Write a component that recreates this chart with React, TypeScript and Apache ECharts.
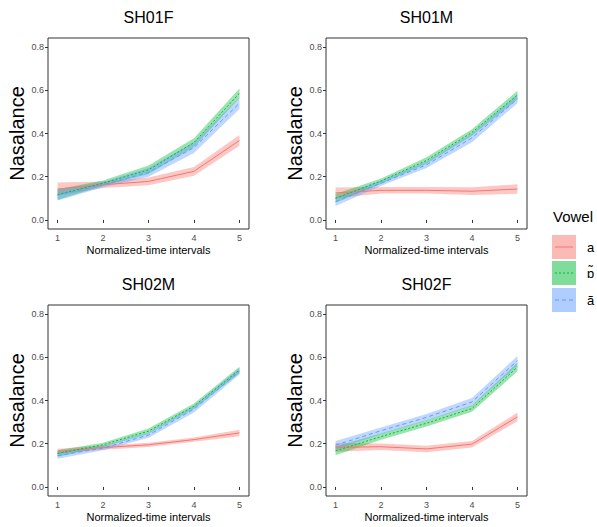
import React, { useEffect, useRef } from "react";
import * as echarts from "echarts";

const intervals = [1, 2, 3, 4, 5];
const yTicks = [0, 0.2, 0.4, 0.6, 0.8];
const panelTitles = ["SH01F", "SH01M", "SH02M", "SH02F"];
const vowels = ["a", "ɒ̃", "ã"];

// SH01F
const sh01fA = [0.143, 0.163, 0.178, 0.225, 0.368];
const sh01fAHalf = [0.03, 0.015, 0.018, 0.02, 0.025];
const sh01fO = [0.117, 0.17, 0.232, 0.358, 0.586];
const sh01fOHalf = [0.025, 0.012, 0.02, 0.02, 0.022];
const sh01fAn = [0.115, 0.163, 0.22, 0.335, 0.54];
const sh01fAnHalf = [0.025, 0.012, 0.02, 0.025, 0.027];

// SH01M
const sh01mA = [0.125, 0.137, 0.137, 0.133, 0.143];
const sh01mAHalf = [0.025, 0.015, 0.015, 0.018, 0.022];
const sh01mO = [0.1, 0.18, 0.275, 0.405, 0.578];
const sh01mOHalf = [0.02, 0.012, 0.015, 0.015, 0.02];
const sh01mAn = [0.085, 0.17, 0.255, 0.38, 0.56];
const sh01mAnHalf = [0.02, 0.012, 0.015, 0.02, 0.02];

// SH02M
const sh02mA = [0.165, 0.182, 0.195, 0.219, 0.25];
const sh02mAHalf = [0.012, 0.01, 0.01, 0.01, 0.015];
const sh02mO = [0.155, 0.195, 0.258, 0.374, 0.541];
const sh02mOHalf = [0.015, 0.01, 0.012, 0.012, 0.015];
const sh02mAn = [0.145, 0.18, 0.24, 0.36, 0.535];
const sh02mAnHalf = [0.015, 0.01, 0.012, 0.015, 0.015];

// SH02F
const sh02fA = [0.183, 0.186, 0.176, 0.198, 0.324];
const sh02fAHalf = [0.02, 0.015, 0.015, 0.015, 0.02];
const sh02fO = [0.167, 0.233, 0.295, 0.363, 0.555];
const sh02fOHalf = [0.02, 0.015, 0.015, 0.015, 0.02];
const sh02fAn = [0.193, 0.26, 0.322, 0.393, 0.584];
const sh02fAnHalf = [0.02, 0.015, 0.015, 0.018, 0.022];

const panelMeans = [
  [sh01fA, sh01fO, sh01fAn],
  [sh01mA, sh01mO, sh01mAn],
  [sh02mA, sh02mO, sh02mAn],
  [sh02fA, sh02fO, sh02fAn],
];
const panelHalves = [
  [sh01fAHalf, sh01fOHalf, sh01fAnHalf],
  [sh01mAHalf, sh01mOHalf, sh01mAnHalf],
  [sh02mAHalf, sh02mOHalf, sh02mAnHalf],
  [sh02fAHalf, sh02fOHalf, sh02fAnHalf],
];

const colors = ["#F8766D", "#00BA38", "#619CFF"];
const dashTypes: any[] = ["solid", [2, 2], [4, 3]];
const FONT = "'Liberation Sans', Arial, Helvetica, sans-serif";

const gridPos = [
  { left: 48, top: 38 },
  { left: 326, top: 38 },
  { left: 48, top: 305 },
  { left: 326, top: 305 },
];
const GW = 201;
const GH = 191;

export default function App() {
  const ref = useRef<HTMLDivElement>(null);
  useEffect(() => {
    if (!ref.current) return;
    const chart = echarts.init(ref.current, undefined, { renderer: "svg" });

    const grids = gridPos.map((g) => ({
      left: g.left,
      top: g.top,
      width: GW,
      height: GH,
      show: true,
      borderColor: "#333333",
      borderWidth: 1,
      backgroundColor: "#ffffff",
      containLabel: false,
    }));

    const xAxes = gridPos.map((_, i) => ({
      type: "value",
      gridIndex: i,
      min: 0.79,
      max: 5.21,
      axisLine: { show: false },
      splitLine: { show: false },
      axisTick: {
        show: true,
        length: 3,
        lineStyle: { color: "#333333", width: 1 },
        customValues: intervals,
      },
      axisLabel: {
        show: true,
        customValues: intervals,
        color: "#4D4D4D",
        fontSize: 9,
        fontFamily: FONT,
        margin: 4,
        formatter: (v: number) => String(v),
      },
    }));

    const yAxes = gridPos.map((_, i) => ({
      type: "value",
      gridIndex: i,
      min: -0.042,
      max: 0.842,
      axisLine: { show: false },
      splitLine: { show: false },
      axisTick: {
        show: true,
        length: 3,
        lineStyle: { color: "#333333", width: 1 },
        customValues: yTicks,
      },
      axisLabel: {
        show: true,
        customValues: yTicks,
        color: "#4D4D4D",
        fontSize: 9,
        fontFamily: FONT,
        margin: 4,
        formatter: (v: number) => v.toFixed(1),
      },
    }));

    const series: any[] = [];
    // ribbons first
    panelMeans.forEach((means, p) => {
      means.forEach((m, v) => {
        const half = panelHalves[p][v];
        const data = intervals.map((x, k) => [x, m[k] - half[k], m[k] + half[k]]);
        series.push({
          type: "custom",
          xAxisIndex: p,
          yAxisIndex: p,
          silent: true,
          clip: true,
          encode: { x: 0, y: [1, 2] },
          data,
          z: 1,
          renderItem: (params: any, api: any) => {
            if (params.dataIndex !== 0) return null;
            const upper = data.map((d) => api.coord([d[0], d[2]]));
            const lower = data.map((d) => api.coord([d[0], d[1]])).reverse();
            return {
              type: "polygon",
              shape: { points: upper.concat(lower) },
              style: { fill: colors[v], opacity: 0.4 },
            };
          },
        });
      });
    });
    // lines
    panelMeans.forEach((means, p) => {
      means.forEach((m, v) => {
        series.push({
          type: "line",
          xAxisIndex: p,
          yAxisIndex: p,
          symbol: "none",
          silent: true,
          lineStyle: { color: colors[v], width: 1, type: dashTypes[v] },
          data: intervals.map((x, k) => [x, m[k]]),
          z: 3,
        });
      });
    });

    const graphics: any[] = [];
    gridPos.forEach((g, i) => {
      graphics.push({
        type: "text",
        x: g.left + GW / 2,
        y: g.top - 21,
        style: {
          text: panelTitles[i],
          fill: "#000",
          font: `16px ${FONT}`,
          textAlign: "center",
          textVerticalAlign: "middle",
        },
      });
      graphics.push({
        type: "text",
        x: g.left + GW / 2,
        y: g.top + GH + 21,
        style: {
          text: "Normalized-time intervals",
          fill: "#000",
          font: `11px ${FONT}`,
          textAlign: "center",
          textVerticalAlign: "middle",
        },
      });
      graphics.push({
        type: "text",
        x: g.left - 31,
        y: g.top + GH / 2,
        rotation: Math.PI / 2,
        style: {
          text: "Nasalance",
          fill: "#000",
          font: `20px ${FONT}`,
          textAlign: "center",
          textVerticalAlign: "middle",
        },
      });
    });

    // legend
    graphics.push({
      type: "text",
      x: 553,
      y: 216,
      style: {
        text: "Vowel",
        fill: "#000",
        font: `15px ${FONT}`,
        textAlign: "left",
        textVerticalAlign: "middle",
      },
    });
    const keyTops = [235, 261, 288];
    vowels.forEach((name, v) => {
      const top = keyTops[v];
      graphics.push({
        type: "rect",
        shape: { x: 552, y: top, width: 24, height: 24 },
        style: { fill: colors[v], opacity: 0.5 },
      });
      graphics.push({
        type: "line",
        shape: { x1: 555, y1: top + 12, x2: 573, y2: top + 12 },
        style: {
          stroke: colors[v],
          lineWidth: 1,
          lineDash: v === 0 ? null : v === 1 ? [2, 2] : [4, 3],
        },
      });
      graphics.push({
        type: "text",
        x: 587,
        y: top + 12,
        style: {
          text: name,
          fill: "#000",
          font: `13px ${FONT}`,
          textAlign: "left",
          textVerticalAlign: "middle",
        },
      });
    });

    chart.setOption({
      animation: false,
      backgroundColor: "#ffffff",
      grid: grids,
      xAxis: xAxes,
      yAxis: yAxes,
      series,
      graphic: graphics,
    });
    return () => chart.dispose();
  }, []);

  return (
    <div
      ref={ref}
      style={{ position: "fixed", left: 0, top: 0, width: 597, height: 527 }}
    />
  );
}
